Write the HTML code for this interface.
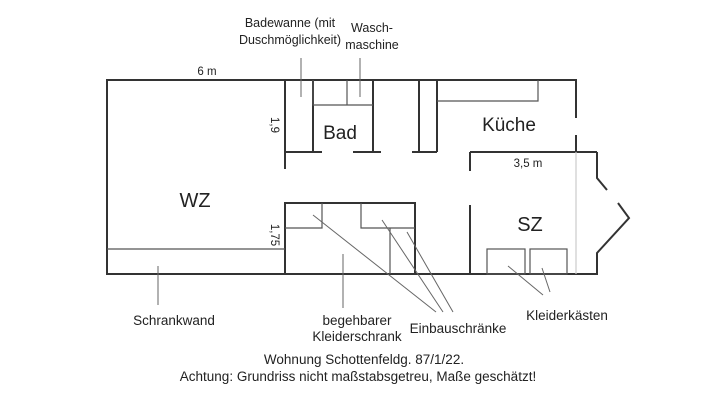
<!DOCTYPE html>
<html><head><meta charset="utf-8"><style>
html,body{margin:0;padding:0;background:#fff;}
svg{display:block;}
text{font-family:"Liberation Sans",sans-serif;fill:#222;}
</style></head><body>
<svg width="720" height="405" viewBox="0 0 720 405" xmlns="http://www.w3.org/2000/svg">
<g stroke="#333" stroke-width="2" fill="none">
<line x1="106" y1="80" x2="577" y2="80"/>
<line x1="106" y1="274" x2="598" y2="274"/>
<line x1="107" y1="80" x2="107" y2="274"/>
<line x1="285" y1="80" x2="285" y2="169"/>
<line x1="285" y1="152" x2="322" y2="152"/>
<line x1="353" y1="152" x2="381" y2="152"/>
<line x1="412" y1="152" x2="437" y2="152"/>
<line x1="313" y1="80" x2="313" y2="152"/>
<line x1="373" y1="80" x2="373" y2="152"/>
<line x1="419" y1="80" x2="419" y2="152"/>
<line x1="437" y1="80" x2="437" y2="152"/>
<line x1="576" y1="80" x2="576" y2="118"/>
<line x1="576" y1="135" x2="576" y2="152"/>
<line x1="470" y1="152" x2="597" y2="152"/>
<line x1="470" y1="152" x2="470" y2="171"/>
<line x1="470" y1="205" x2="470" y2="274"/>
<polyline points="597,152 597,178 607,190"/>
<polyline points="618,203 629,218 597,253 597,274"/>
<polyline points="285,274 285,203 415,203 415,274"/>
</g>
<g stroke="#555" stroke-width="1.2" fill="none">
<polyline points="313,80 313,105 373,105"/>
<line x1="347" y1="80" x2="347" y2="105"/>
<polyline points="437,101 538,101 538,80"/>
<polyline points="285,228 322,228 322,203"/>
<polyline points="361,203 361,228 415,228"/>
<line x1="390" y1="228" x2="390" y2="274"/>
<line x1="107" y1="249" x2="285" y2="249"/>
<rect x="487" y="249" width="38" height="25"/>
<rect x="530" y="249" width="37" height="25"/>
<line x1="576" y1="152" x2="576" y2="274" stroke="#ccc"/>
</g>
<g stroke="#666" stroke-width="1" fill="none">
<line x1="301" y1="58" x2="301" y2="97"/>
<line x1="360" y1="58" x2="360" y2="97"/>
<line x1="158" y1="266" x2="158" y2="305"/>
<line x1="343" y1="254" x2="343" y2="308"/>
<line x1="313" y1="215" x2="436" y2="312"/>
<line x1="382" y1="220" x2="443" y2="312"/>
<line x1="407" y1="232" x2="453" y2="312"/>
<line x1="508" y1="266" x2="543" y2="295"/>
<line x1="542" y1="268" x2="550" y2="292"/>
</g>
<text x="207" y="75" font-size="11.5" text-anchor="middle">6 m</text>
<text x="528" y="167" font-size="11.5" text-anchor="middle">3,5 m</text>
<text transform="translate(271,125) rotate(90)" font-size="11.5" text-anchor="middle">1,9</text>
<text transform="translate(271,235) rotate(90)" font-size="11.5" text-anchor="middle">1,75</text>
<text x="340" y="139" font-size="19" text-anchor="middle">Bad</text>
<text x="509" y="131" font-size="19" text-anchor="middle">Küche</text>
<text x="195" y="207" font-size="20" text-anchor="middle">WZ</text>
<text x="530" y="231" font-size="20" text-anchor="middle">SZ</text>
<text x="290" y="27" font-size="12.5" text-anchor="middle">Badewanne (mit</text>
<text x="290" y="44" font-size="12.5" text-anchor="middle">Duschmöglichkeit)</text>
<text x="372" y="32" font-size="12.5" text-anchor="middle">Wasch-</text>
<text x="372" y="49" font-size="12.5" text-anchor="middle">maschine</text>
<text x="174" y="325" font-size="13.5" text-anchor="middle">Schrankwand</text>
<text x="357" y="325" font-size="13.5" text-anchor="middle">begehbarer</text>
<text x="357" y="341" font-size="13.5" text-anchor="middle">Kleiderschrank</text>
<text x="458" y="333" font-size="13.5" text-anchor="middle">Einbauschränke</text>
<text x="567" y="320" font-size="13.5" text-anchor="middle">Kleiderkästen</text>
<text x="364" y="364" font-size="13.5" text-anchor="middle">Wohnung Schottenfeldg. 87/1/22.</text>
<text x="358" y="381" font-size="13.5" text-anchor="middle">Achtung: Grundriss nicht maßstabsgetreu, Maße geschätzt!</text>
</svg>
</body></html>
